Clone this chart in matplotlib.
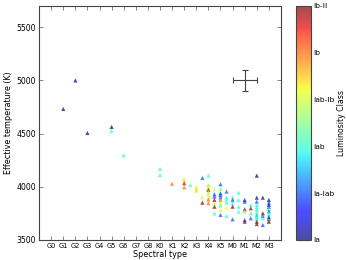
import matplotlib
matplotlib.use("Agg")
import matplotlib.pyplot as plt
import numpy as np

spec_labels = ["G0","G1","G2","G3","G4","G5","G6","G7","G8",
               "K0","K1","K2","K3","K4","K5","M0","M1","M2","M3"]
lum_labels = ["Ia","Ia-Iab","Iab","Iab-Ib","Ib","Ib-II"]

# spectral type index (G0=0 ... M3=18), effective temperature, luminosity class value
spec = [1, 2, 3, 5, 5, 6, 9, 9, 10,
        11, 11, 11, 11, 11.5, 12, 12, 12,
        12.5, 12.5, 12.5,
        13, 13, 13, 13, 13, 13, 13, 13, 13, 13,
        13.5, 13.5, 13.5, 13.5, 13.5, 13.5, 13.5,
        14, 14, 14, 14, 14, 14, 14, 14, 14, 14,
        14.5, 14.5, 14.5, 14.5, 14.5, 14.5,
        15, 15, 15, 15, 15,
        15.5, 15.5, 15.5, 15.5,
        16, 16, 16, 16, 16, 16,
        16.5, 16.5, 16.5, 16.5,
        17, 17, 17, 17, 17, 17, 17, 17, 17, 17, 17, 17, 17,
        17.5, 17.5, 17.5, 17.5, 17.5,
        18, 18, 18, 18, 18, 18, 18, 18, 18, 18, 18, 18]
teff = [4732, 5000, 4506, 4563, 4525, 4296, 4168, 4111, 4030,
        4074, 4055, 4033, 3995, 4017, 3998, 3983, 3964,
        4083, 3901, 3851,
        4105, 4017, 4000, 3983, 3970, 3950, 3925, 3900, 3880, 3845,
        3977, 3930, 3908, 3876, 3845, 3813, 3750,
        4024, 3980, 3940, 3923, 3901, 3876, 3845, 3823, 3782, 3735,
        3955, 3901, 3882, 3854, 3804, 3726,
        3901, 3876, 3845, 3813, 3694,
        3946, 3876, 3813, 3766,
        3876, 3860, 3788, 3766, 3688, 3672,
        3829, 3798, 3751, 3704,
        4105, 3898, 3860, 3829, 3810, 3790, 3770, 3750, 3730, 3710, 3695, 3672, 3650,
        3898, 3751, 3726, 3704, 3641,
        3876, 3850, 3830, 3810, 3790, 3770, 3750, 3730, 3715, 3700, 3685, 3672]
lum = [0, 0, 0, 0, 2, 2, 2, 2, 4,
       3, 3, 4.6, 4, 2.1, 3, 3, 3.4,
       1, 3, 5,
       2, 2.5, 3, 3, 4.8, 2.8, 3, 3, 4, 4,
       3, 1, 1, 5, 2.8, 5, 2,
       1, 2.5, 1, 1, 1, 4, 2.8, 2.3, 3, 1,
       1, 2, 2, 2, 3.2, 2,
       2, 1, 2, 5, 1,
       2, 2, 2, 2,
       0.5, 1, 5, 2.7, 1, 5,
       2, 5, 2, 1,
       0, 0, 1, 2, 2, 2, 2.2, 2, 1.5, 2, 2, 5, 5,
       0, 5, 1, 2, 1,
       0, 1, 0.5, 1, 2, 1, 2, 2, 1, 5, 2, 5]

fig = plt.figure(figsize=(3.46, 2.60), dpi=100)
ax = fig.add_axes([0.113, 0.077, 0.699, 0.9])
cax = fig.add_axes([0.855, 0.077, 0.044, 0.9])

sc = ax.scatter(spec, teff, c=lum, cmap="jet", vmin=0, vmax=5, marker="^",
                s=9, alpha=0.7, linewidths=0)
ax.errorbar([16], [5000], xerr=[1], yerr=[100], color="#444444", lw=0.8,
            capsize=2, capthick=0.8)

ax.set_xlim(-1, 19)
ax.set_ylim(3500, 5700)
ax.set_xticks(range(len(spec_labels)))
ax.set_xticklabels(spec_labels, fontsize=4.8)
ax.set_yticks([3500, 4000, 4500, 5000, 5500])
ax.tick_params(axis="y", labelsize=5.6)
ax.tick_params(direction="in", top=True, right=True, length=3, width=0.5,
               color="#555555", pad=2)
for sp in ax.spines.values():
    sp.set_linewidth(0.8)
    sp.set_color("#444444")
ax.set_xlabel("Spectral type", fontsize=5.8, labelpad=1)
ax.set_ylabel("Effective temperature (K)", fontsize=5.8, labelpad=3)

cb = fig.colorbar(sc, cax=cax, ticks=range(6))
cb.solids.set_alpha(0.7)
cb.ax.set_yticklabels(lum_labels, fontsize=5.4)
cb.ax.tick_params(length=0, pad=1.5)
cb.outline.set_linewidth(0.8)
cb.outline.set_edgecolor("#444444")
fig.text(341.5 / 346, 1 - 123 / 260, "Luminosity Class", rotation=90,
         fontsize=5.6, ha="center", va="center")

fig.savefig("out.png", dpi=100)
